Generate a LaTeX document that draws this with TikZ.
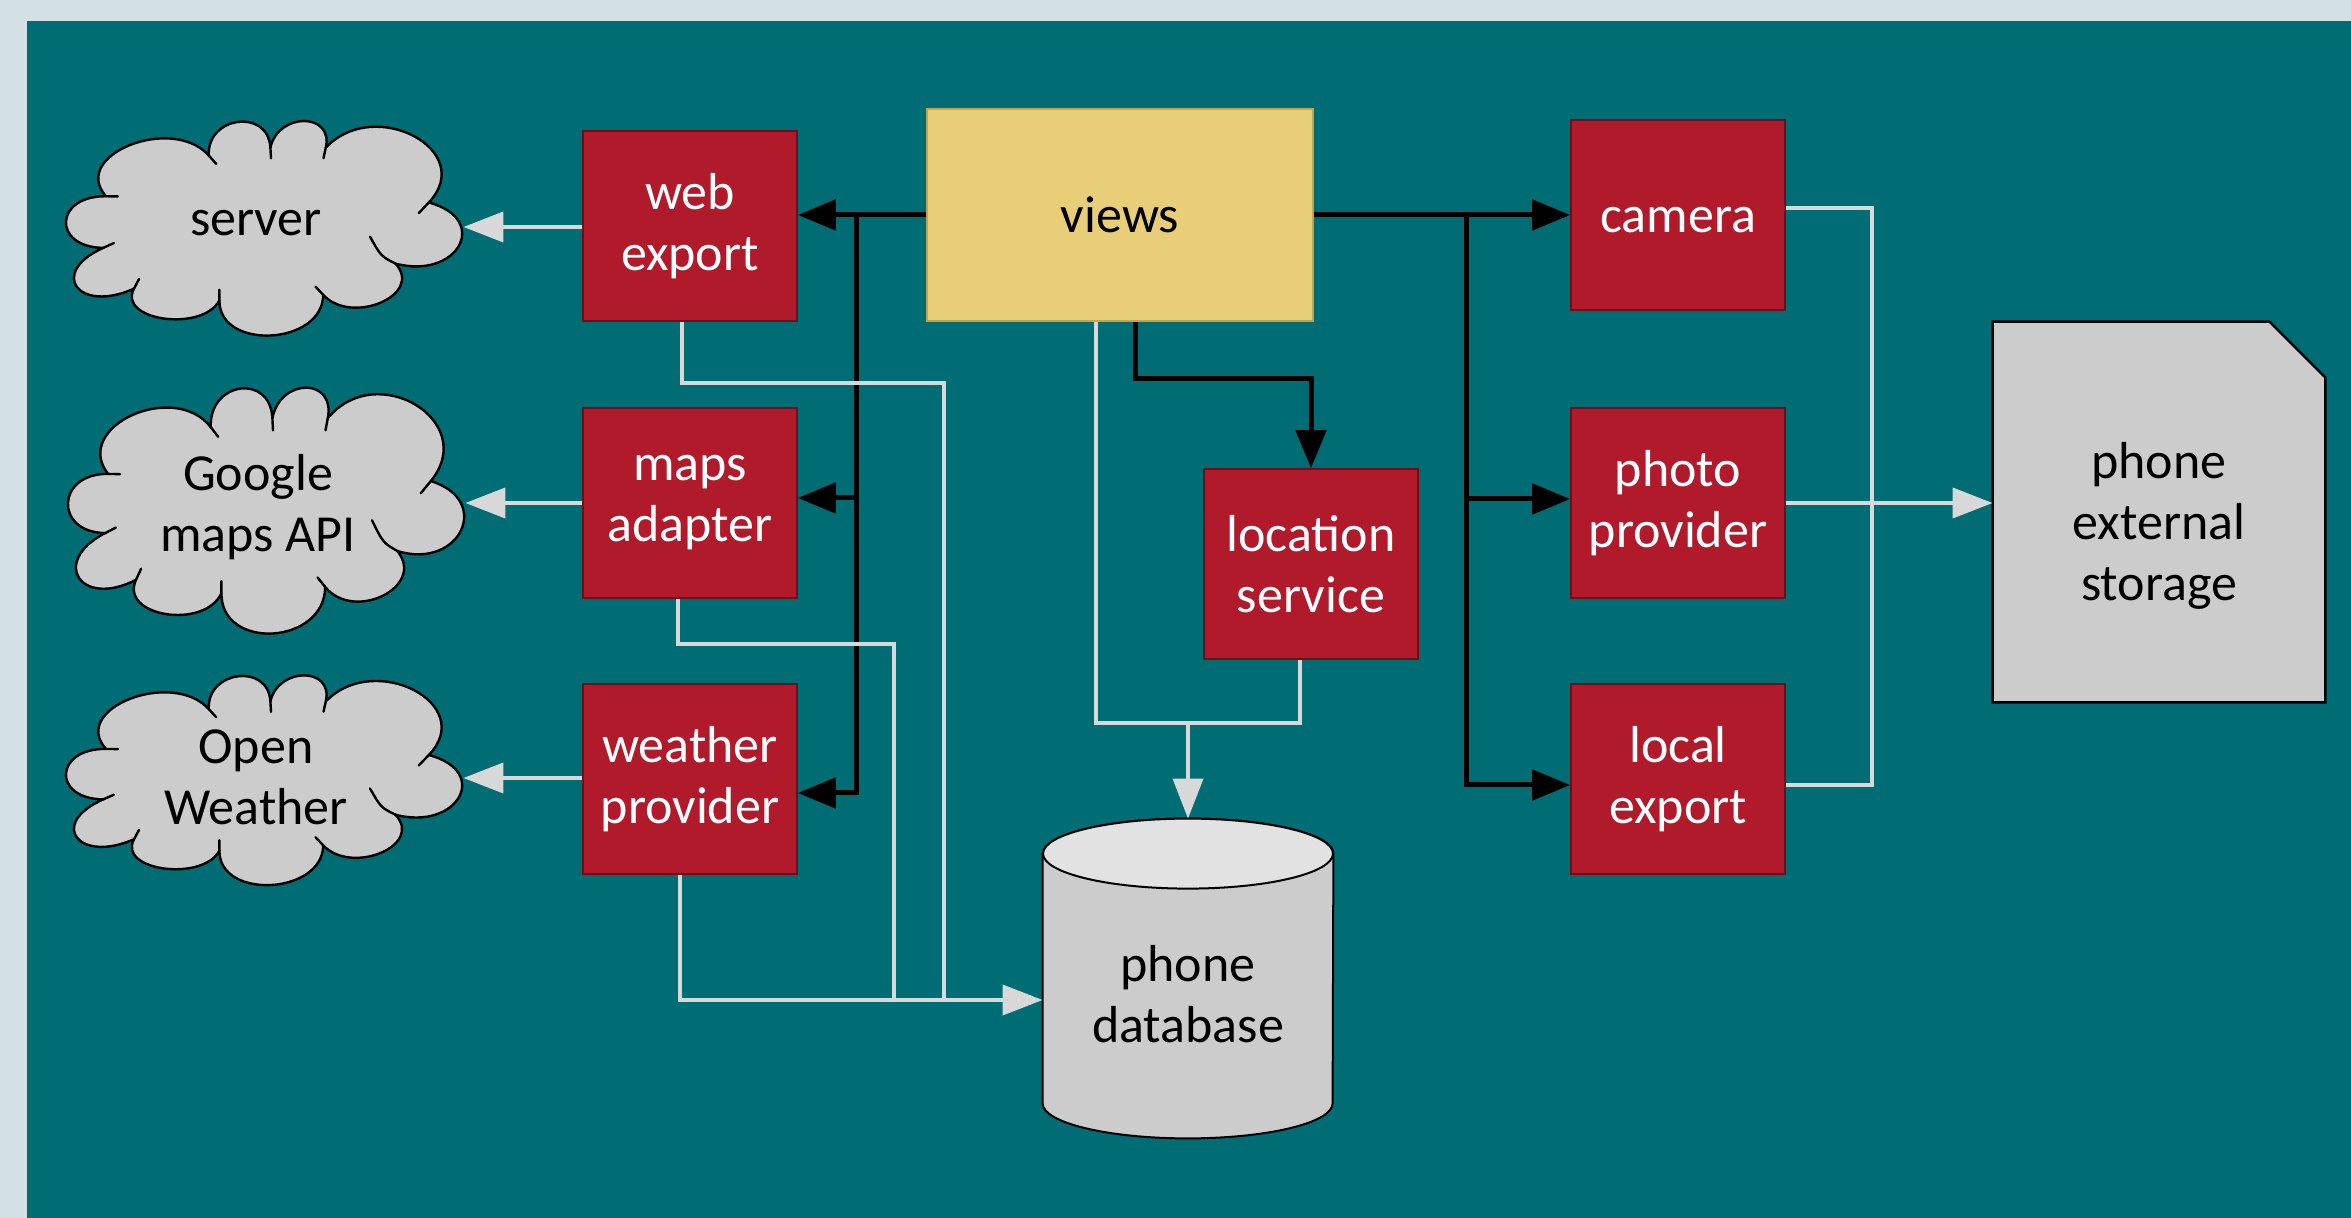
\documentclass[tikz,border=0pt]{standalone}
\usepackage{fontspec}
\setmainfont{Carlito}
\usetikzlibrary{arrows.meta,calc}
\definecolor{pagebg}{HTML}{D3E1E5}
\definecolor{panelteal}{HTML}{006C73}
\definecolor{boxred}{HTML}{B01A2A}
\definecolor{boxedge}{HTML}{6B1018}
\definecolor{viewsyellow}{HTML}{E8CE78}
\definecolor{viewsedge}{HTML}{C9A24A}
\definecolor{stonegray}{HTML}{CCCCCC}
\definecolor{lidgray}{HTML}{E2E2E2}
\definecolor{wirelight}{HTML}{D8D8D8}
\pgfdeclarelayer{base}
\pgfdeclarelayer{back}
\pgfsetlayers{base,back,main}
\tikzset{
  % bumpy cloud outline with the small inner strokes where the puffs meet
  puffcloud/.pic={
    \filldraw[fill=stonegray, draw=black, line width=1.2pt, line join=round]
      (-160,-33.4) .. controls (-196.5,-79.7) and (-93.7,-125.5) .. (-57.2,-79.2)
      .. controls (-59.3,-123.7) and (2.3,-132.5) .. (4.4,-88)
      .. controls (12.3,-128) and (67.7,-128) .. (59.8,-88)
      .. controls (108.7,-146.4) and (211.7,-84.8) .. (162.8,-26.4)
      .. controls (225.3,-7.6) and (191.9,61) .. (129.4,42.2)
      .. controls (158.3,77.1) and (86.1,112.3) .. (57.2,77.4)
      .. controls (56.8,134.1) and (-47,140.3) .. (-46.6,83.6)
      .. controls (-63.5,119.6) and (-148.9,106.4) .. (-132,70.4)
      .. controls (-187.5,98.5) and (-218.3,52.7) .. (-162.8,24.6)
      .. controls (-214.3,23.8) and (-211.5,-34.2) .. (-160,-33.4) -- cycle;
    \draw[line width=1.2pt, line cap=round]
      (-160,-33.4) -- (-148,-33.2)
      (-57.2,-79.2) -- (-49.8,-69.8)
      (4.4,-88) -- (5,-76)
      (59.8,-88) -- (57.5,-76.2)
      (162.8,-26.4) -- (152.8,-14.4)
      (129.4,42.2) .. controls (115,34) .. (104,12)
      (57.2,77.4) -- (49.5,68.1)
      (-46.6,83.6) -- (-46.6,71.6)
      (-132,70.4) -- (-126.9,59.5)
      (-162.8,24.6) -- (-152.1,19.2);
  }
}
\begin{document}
\begin{tikzpicture}[x=0.5pt,y=-0.5pt,
  lbl/.style={font=\fontsize{26}{30.5}\selectfont, align=center},
  comp/.style={lbl, rectangle, fill=boxred, draw=boxedge, line width=0.8pt,
    text=white, minimum width=107pt, minimum height=95pt, inner sep=0pt},
  ext/.style={lbl, rectangle, inner sep=0pt, minimum width=207pt, minimum height=100pt},
  ctrl/.style={line width=2.5pt, draw=black, -{Triangle[length=19pt,width=15pt]}},
  data/.style={line width=2pt, draw=wirelight, -{Triangle[length=20pt,width=15pt]}},
  wire/.style={line width=2pt, draw=wirelight}]

\begin{pgfonlayer}{base}
  \fill[pagebg] (0,0) rectangle (2351,1218);
  \fill[panelteal] (27,21) rectangle (2351,1218);
\end{pgfonlayer}
\useasboundingbox (0,0) rectangle (2351,1218);

% external services
\node[ext] (server) at (256,223) {server};
\node[ext] (gmaps) at (258,507) {Google\\maps API};
\node[ext] (owm) at (256,777) {Open\\Weather};
\begin{pgfonlayer}{back}
  \pic[yscale=0.89] at ($(server.center)+(10,3)$) {puffcloud};
  \pic[yscale=1.02] at ($(gmaps.center)+(10,1)$) {puffcloud};
  \pic[yscale=0.87] at ($(owm.center)+(10,1)$) {puffcloud};
\end{pgfonlayer}

% adapters on the left
\node[comp] (webx) at (690,226) {web\\export};
\node[comp] (mapsad) at (690,503) {maps\\adapter};
\node[comp] (wprov) at (690,779) {weather\\provider};

% views and location service
\node[lbl, fill=viewsyellow, draw=viewsedge, line width=0.8pt,
  minimum width=193pt, minimum height=106pt, inner sep=0pt] (views) at (1120,215) {views};
\node[comp] (locsvc) at (1311,564) {location\\service};

% device side
\node[comp] (cam) at (1678,215) {\vphantom{l}camera};
\node[comp] (photo) at (1678,503) {photo\\provider};
\node[comp] (localx) at (1678,779) {local\\export};

% storage card with a clipped corner
\node[minimum width=166pt, minimum height=190pt, inner sep=0pt,
  label={[lbl, yshift=-7pt]center:phone\\external\\storage}] (extstore) at (2159,512) {};
\begin{pgfonlayer}{back}
  \filldraw[fill=stonegray, draw=black, line width=1.2pt, line join=miter]
    (extstore.north west) -- ($(extstore.north east)+(-56,0)$)
    -- ($(extstore.north east)+(0,56)$) -- (extstore.south east)
    -- (extstore.south west) -- cycle;
\end{pgfonlayer}

% database cylinder
\node[minimum width=145pt, minimum height=159.5pt, inner sep=0pt,
  label={[lbl, yshift=-8pt]center:phone\\database}] (db) at (1188,978.5) {};
\begin{pgfonlayer}{back}
  \filldraw[fill=stonegray, draw=black, line width=1pt]
    ($(db.north west)+(0,35)$) -- ($(db.south west)+(0,-35)$)
    arc[start angle=180, end angle=360, x radius=72.5pt, y radius=17.5pt]
    -- ($(db.north east)+(0,35)$)
    arc[start angle=0, end angle=180, x radius=72.5pt, y radius=17.5pt] -- cycle;
  \filldraw[fill=lidgray, draw=black, line width=1pt]
    ($(db.north)+(0,35)$) ellipse[x radius=72.5pt, y radius=17.5pt];
\end{pgfonlayer}

% control flow from the views
\coordinate (lsplit) at ($(views.west)+(-70,0)$);
\coordinate (mapsin) at ($(mapsad.east)+(0,-5)$);
\draw[ctrl] (views.west) -- (views.west -| webx.east);
\draw[ctrl] (lsplit) |- ($(wprov.east)+(0,14)$);
\draw[ctrl] (lsplit |- mapsin) -- (mapsin);

\coordinate (rsplit) at ($(views.east)+(153,0)$);
\coordinate (photoin) at ($(photo.west)+(0,-4)$);
\draw[ctrl] (views.east) -- (views.east -| cam.west);
\draw[ctrl] (rsplit) |- ($(localx.west)+(0,6)$);
\draw[ctrl] (rsplit |- photoin) -- (photoin);

\draw[ctrl] ($(views.south)+(15,0)$) -- ++(0,57) -| (locsvc.north);

% data flow to external services
\draw[data] ($(webx.west)+(0,1)$) -- (server.east |- 0,227);
\draw[data] (mapsad.west) -- (gmaps.east |- 0,503);
\draw[data] ($(wprov.west)+(0,-1)$) -- (owm.east |- 0,778);

% data flow into the database
\coordinate (dbin) at ($(db.west)+(0,21.5)$);
\coordinate (webturn) at (944,383);
\coordinate (mapsturn) at (894,644);
\draw[wire] ($(webx.south)+(-8,0)$) |- (webturn) -- (webturn |- dbin);
\draw[wire] ($(mapsad.south)+(-12,0)$) |- (mapsturn) -- (mapsturn |- dbin);
\draw[data] ($(wprov.south)+(-10,0)$) |- (dbin);

\coordinate (merge) at ($(db.north)+(0,-96)$);
\draw[wire] ($(views.south)+(-24,0)$) |- (merge) -| ($(locsvc.south)+(-11,0)$);
\draw[data] (merge) -- (db.north);

% data flow into external storage
\draw[wire] ($(cam.east)+(0,-7)$) -- ++(86,0) |- ($(localx.east)+(0,6)$);
\draw[data] (photo.east) -- (photo.east -| extstore.west);
\end{tikzpicture}
\end{document}
